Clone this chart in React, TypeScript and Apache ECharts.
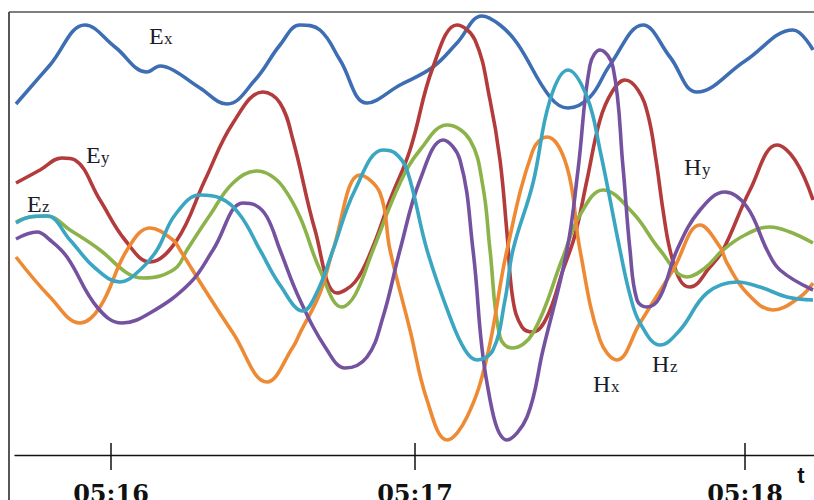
import React, { useEffect, useRef } from "react";
import * as echarts from "echarts";

// x: sample index along the record, y: field amplitude (arbitrary units)
const exData = [[1,351],[35,390],[70,430],[100,408],[132,383],[145,389],[158,385],[185,367],[212,351],[240,375],[265,410],[285,430],[305,425],[325,395],[352,352],[385,370],[418,388],[442,412],[467,439],[485,430],[502,412],[535,358],[553,347],[575,358],[595,390],[628,430],[655,398],[682,363],[730,394],[778,425],[798,405]];
const eyData = [[1,272],[25,285],[47,297],[60,295],[85,255],[110,215],[135,193],[162,215],[190,275],[218,332],[248,363],[265,352],[278,315],[300,225],[322,162],[340,173],[357,206],[375,255],[395,305],[418,388],[442,430],[460,415],[475,355],[485,295],[492,222],[498,155],[507,128],[518,123],[532,138],[548,185],[560,220],[572,275],[585,335],[597,363],[610,375],[623,365],[633,340],[641,295],[648,245],[655,205],[665,175],[675,168],[695,188],[708,205],[735,265],[762,310],[780,295],[798,255]];
const ezData = [[1,233],[15,238],[32,239],[55,225],[85,205],[112,182],[128,177],[145,179],[162,188],[172,205],[195,240],[218,272],[242,284],[255,280],[268,268],[285,238],[305,185],[327,148],[340,160],[358,205],[385,272],[405,305],[432,330],[455,315],[468,268],[475,205],[485,118],[497,107],[518,122],[548,198],[565,240],[588,265],[618,242],[645,205],[672,178],[690,187],[708,205],[730,220],[755,228],[775,223],[798,212]];
const hxData = [[1,198],[35,158],[65,132],[85,148],[112,205],[135,227],[158,215],[165,205],[190,165],[218,122],[252,73],[278,108],[285,122],[305,162],[318,205],[345,280],[365,262],[375,205],[395,125],[412,55],[432,15],[452,38],[472,98],[492,205],[518,305],[532,318],[552,288],[565,205],[585,115],[602,95],[625,132],[658,185],[685,230],[705,208],[712,192],[732,162],[758,145],[785,158],[798,172]];
const hyData = [[1,216],[22,223],[35,215],[52,198],[82,148],[107,132],[135,142],[175,172],[198,205],[228,252],[240,250],[252,238],[265,205],[285,155],[312,105],[330,87],[352,98],[368,138],[385,205],[405,275],[428,315],[445,295],[458,205],[472,72],[492,15],[512,38],[528,105],[552,205],[563,285],[575,390],[585,405],[598,388],[608,288],[615,205],[622,155],[632,148],[645,158],[662,205],[685,245],[710,263],[732,248],[752,205],[765,185],[798,165]];
const hzData = [[1,232],[15,238],[32,239],[55,215],[80,187],[105,173],[125,185],[142,205],[160,240],[185,260],[205,257],[225,240],[245,205],[265,170],[288,144],[303,165],[318,205],[340,265],[368,305],[380,302],[392,285],[412,205],[435,138],[450,105],[462,95],[478,105],[490,155],[498,205],[518,272],[535,355],[553,385],[572,358],[585,305],[605,205],[615,160],[625,132],[645,110],[665,125],[692,162],[722,173],[745,168],[772,158],[798,155]];

const seriesNames = ["Ex", "Ey", "Ez", "Hx", "Hy", "Hz"];
const seriesColors = ["#3D6DB3", "#B33B3B", "#8CB34A", "#EE8A33", "#7552A0", "#3AA6C2"];
const tickValues = [96, 400, 730];
const tickLabels = ["05:16", "05:17", "05:18"];
const axisName = "t";

export default function App() {
  const ref = useRef<HTMLDivElement>(null);
  useEffect(() => {
    if (!ref.current) return;
    const chart = echarts.init(ref.current, null, { renderer: "svg" });
    const datasets = [exData, eyData, ezData, hxData, hyData, hzData];
    const labelColor = "#1b1b2a";
    const mkLabel = (main: string, sub: string, left: number, subLeft: number, baseline: number) => [
      {
        type: "text",
        x: left,
        y: baseline - 8,
        style: { text: main, fill: labelColor, font: "24px 'Liberation Serif', serif", verticalAlign: "middle", align: "left" },
      },
      {
        type: "text",
        x: subLeft,
        y: baseline - 5.5,
        style: { text: sub, fill: labelColor, font: "17px 'Liberation Serif', serif", verticalAlign: "middle", align: "left" },
      },
    ];
    chart.setOption({
      animation: false,
      backgroundColor: "#ffffff",
      grid: { left: 15, right: 0, top: 12, bottom: 45, outerBoundsMode: "none", containLabel: false },
      xAxis: [
        {
          type: "value",
          min: 0,
          max: 799,
          position: "bottom",
          axisLine: { show: true, lineStyle: { color: "#111", width: 1.3 } },
          axisTick: { show: true, customValues: tickValues, length: 15, lineStyle: { color: "#111", width: 1.5 } },
          axisLabel: {
            show: true,
            customValues: tickValues,
            formatter: (v: number) => tickLabels[tickValues.indexOf(Math.round(v))] ?? "",
            fontFamily: "'DejaVu Serif', serif",
            fontWeight: "bold",
            fontSize: 24,
            color: "#111",
            margin: 26,
          },
          splitLine: { show: false },
        },
        {
          type: "value",
          min: 0,
          max: 799,
          position: "bottom",
          axisLine: { show: false },
          axisTick: { show: true, inside: true, customValues: tickValues, length: 12, lineStyle: { color: "#111", width: 1.5 } },
          axisLabel: { show: false },
          splitLine: { show: false },
        },
      ],
      yAxis: { type: "value", min: 0, max: 443, show: false, splitLine: { show: false } },
      series: datasets.map((d, i) => ({
        name: seriesNames[i],
        type: "line",
        xAxisIndex: 0,
        data: d,
        smooth: 0.4,
        symbol: "none",
        clip: false,
        lineStyle: { color: seriesColors[i], width: 3.6 },
      })),
      graphic: [
        { type: "line", shape: { x1: 9, y1: 12, x2: 814, y2: 12 }, style: { stroke: "#555", lineWidth: 1.5 } },
        { type: "line", shape: { x1: 9, y1: 12, x2: 9, y2: 500 }, style: { stroke: "#444", lineWidth: 1.8 } },
        ...mkLabel("E", "x", 149, 164, 44),
        ...mkLabel("E", "y", 86, 101, 163),
        ...mkLabel("E", "z", 27, 42, 212),
        ...mkLabel("H", "y", 684, 702, 175),
        ...mkLabel("H", "x", 593, 611, 392),
        ...mkLabel("H", "z", 652, 670, 372),
        {
          type: "text",
          x: 801,
          y: 475,
          style: { text: axisName, fill: "#111", font: "bold 22px 'Liberation Sans', sans-serif", align: "center", verticalAlign: "middle" },
        },
      ],
    });
    return () => chart.dispose();
  }, []);
  return <div ref={ref} style={{ position: "fixed", left: 0, top: 0, width: 814, height: 500 }} />;
}
